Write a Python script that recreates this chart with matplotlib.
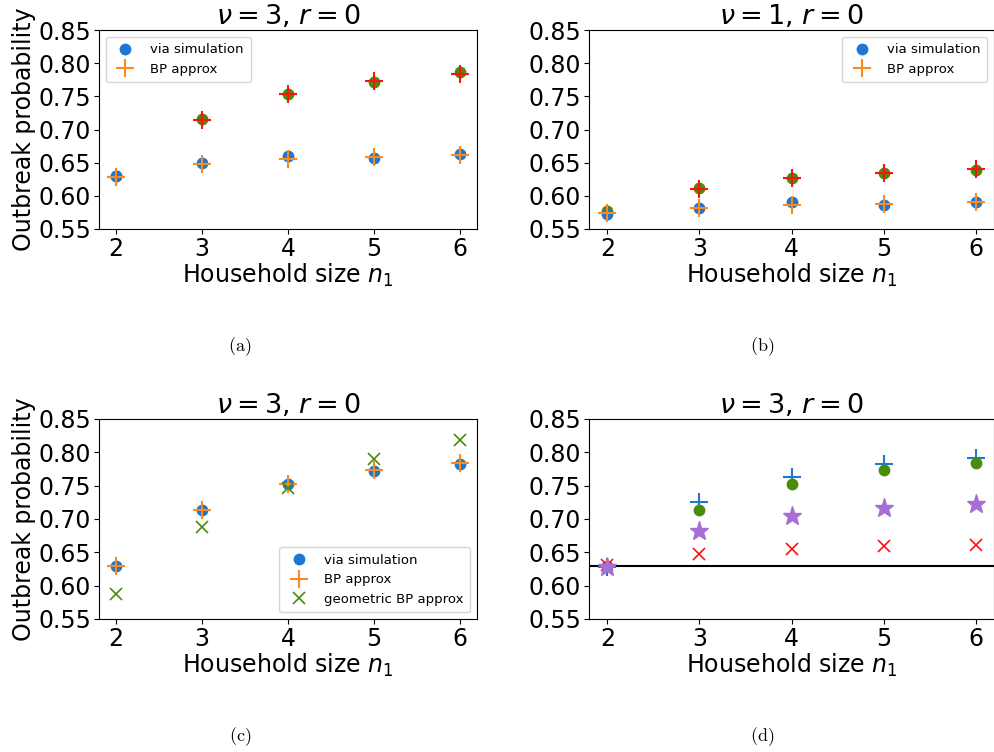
import matplotlib

matplotlib.use("Agg")
import matplotlib.pyplot as plt

plt.rcParams["mathtext.fontset"] = "dejavusans"

n1 = [2, 3, 4, 5, 6]

# (a) nu=3, r=0
a_sim = [0.630, 0.649, 0.660, 0.657, 0.663]
a_bp = [0.629, 0.648, 0.656, 0.659, 0.662]
a_sim2 = [0.630, 0.716, 0.753, 0.772, 0.787]
a_bp2 = [0.629, 0.715, 0.753, 0.773, 0.784]

# (b) nu=1, r=0
b_sim = [0.572, 0.581, 0.591, 0.586, 0.590]
b_bp = [0.574, 0.582, 0.586, 0.588, 0.590]
b_sim2 = [0.577, 0.612, 0.627, 0.634, 0.639]
b_bp2 = [0.574, 0.611, 0.627, 0.635, 0.640]

# (c) nu=3, r=0 with geometric approx
c_sim = [0.629, 0.713, 0.753, 0.772, 0.783]
c_bp = [0.629, 0.714, 0.753, 0.773, 0.784]
c_geo = [0.588, 0.688, 0.747, 0.790, 0.819]

# (d) nu=3, r=0 comparison
d_plus = [0.628, 0.725, 0.763, 0.782, 0.791]
d_dot = [0.629, 0.714, 0.752, 0.773, 0.784]
d_star = [0.628, 0.682, 0.705, 0.717, 0.722]
d_x = [0.631, 0.648, 0.655, 0.659, 0.661]
d_hline = 0.629

BLUE = "#1f77d0"
ORANGE = "#ff8a1c"
GREEN = "#4a8c0a"
RED = "#ff1010"
PURPLE = "#a66fd6"

FS = 17
TFS = 19.5
LFS = 9.5

fig = plt.figure(figsize=(9.95, 7.52), dpi=100, facecolor="white")
W, H = 995, 752


def make_ax(l, t, r, b):
    return fig.add_axes([l / W, 1 - b / H, (r - l) / W, (b - t) / H])


ax_a = make_ax(99, 30, 477, 229)
ax_b = make_ax(589, 30, 994, 229)
ax_c = make_ax(99, 419, 477, 619)
ax_d = make_ax(589, 419, 994, 619)

leg_kw = dict(fontsize=LFS, handletextpad=0.9, borderpad=0.5, labelspacing=0.5)

# (a)
ax_a.plot(n1, a_sim2, "o", color=GREEN, ms=7.5)
ax_a.plot(n1, a_bp2, "+", color=RED, ms=13, mew=1.5)
ax_a.plot(n1, a_sim, "o", color=BLUE, ms=7.5, label="via simulation")
ax_a.plot(n1, a_bp, "+", color=ORANGE, ms=13, mew=1.5, label="BP approx")
ax_a.set_title(r"$\nu=3$, $r=0$", fontsize=TFS, pad=4)
ax_a.set_ylabel("Outbreak probability", fontsize=FS, labelpad=2)
ax_a.legend(loc="upper left", **leg_kw)

# (b)
ax_b.plot(n1, b_sim2, "o", color=GREEN, ms=7.5)
ax_b.plot(n1, b_bp2, "+", color=RED, ms=13, mew=1.5)
ax_b.plot(n1, b_sim, "o", color=BLUE, ms=7.5, label="via simulation")
ax_b.plot(n1, b_bp, "+", color=ORANGE, ms=13, mew=1.5, label="BP approx")
ax_b.set_title(r"$\nu=1$, $r=0$", fontsize=TFS, pad=4)
ax_b.legend(loc="upper right", **leg_kw)

# (c)
ax_c.plot(n1, c_sim, "o", color=BLUE, ms=7.5, label="via simulation")
ax_c.plot(n1, c_bp, "+", color=ORANGE, ms=13, mew=1.5, label="BP approx")
ax_c.plot(n1, c_geo, "x", color=GREEN, ms=9, mew=1.2, label="geometric BP approx")
ax_c.set_title(r"$\nu=3$, $r=0$", fontsize=TFS, pad=4)
ax_c.set_ylabel("Outbreak probability", fontsize=FS, labelpad=2)
ax_c.legend(loc="lower right", **leg_kw)

# (d)
ax_d.axhline(d_hline, color="black", lw=1.5, zorder=1)
ax_d.plot(n1, d_plus, "+", color=BLUE, ms=13, mew=1.5)
ax_d.plot(n1, d_dot, "o", color=GREEN, ms=7.5)
ax_d.plot(n1, d_x, "x", color=RED, ms=9, mew=1.2)
ax_d.plot(n1, d_star, "*", color=PURPLE, ms=14)
ax_d.set_title(r"$\nu=3$, $r=0$", fontsize=TFS, pad=4)

for ax in (ax_a, ax_b, ax_c, ax_d):
    ax.set_ylim(0.55, 0.85)
    ax.set_xlim(1.8, 6.2)
    ax.set_xticks(n1)
    ax.set_yticks([0.55, 0.60, 0.65, 0.70, 0.75, 0.80, 0.85])
    ax.tick_params(labelsize=FS, pad=2)
    ax.set_xlabel(r"Household size $n_1$", fontsize=FS, labelpad=1)

caps = [("(a)", 240, 347), ("(b)", 762, 347), ("(c)", 240, 737), ("(d)", 762, 737)]
for txt, x, y in caps:
    fig.text(x / W, 1 - y / H, r"$\mathrm{" + txt + "}$", ha="center", va="center",
             fontsize=13, math_fontfamily="cm")

fig.savefig("out.png", dpi=100, facecolor="white")
